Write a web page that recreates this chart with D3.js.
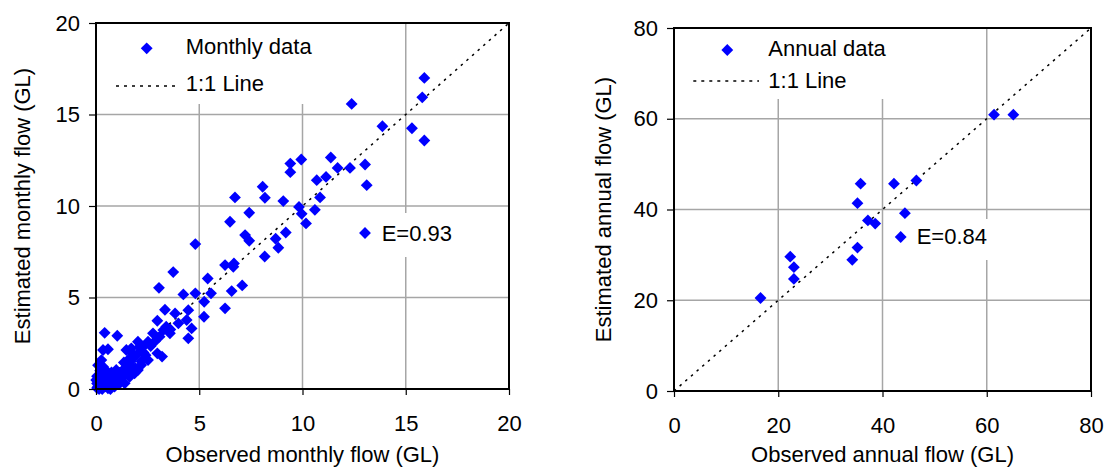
<!DOCTYPE html>
<html>
<head>
<meta charset="utf-8">
<script src="https://cdn.jsdelivr.net/npm/d3@7"></script>
<style>
    body { margin: 0; background: #fff; }
    svg { display: block; font-family: "Liberation Sans", Arial, sans-serif; }
</style>
</head>
<body>
<div id="container"></div>
<script>
const monthlyObserved = [
    15.9, 15.8, 12.38, 13.87, 15.3, 15.9,
    11.37, 9.94, 9.41, 9.41, 11.7, 12.3, 13.03, 13.11, 11.14, 10.69, 10.85, 10.6, 9.83, 9.96, 10.17, 9.07,
    8.07, 8.18, 6.73, 7.42, 6.49, 9.19, 8.7, 8.83, 8.17, 7.22, 7.42, 4.81, 6.25, 6.68, 6.65, 7.08, 6.57,
    6.25, 5.41, 3.74, 3.05, 4.23, 4.81, 5.57, 5.24, 5.23, 4.47, 3.34, 2.97, 3.83, 4.39, 4.63, 4.47, 3.99,
    3.58, 3.26, 3.08, 2.76, 3.2, 2.97, 2.52, 2.28, 2.03, 1.71, 1.47, 1.87, 1.55, 1.35, 0.98, 1.39, 1.71,
    2.19, 2.52, 0.82, 0.58, 0.34, 0.1, 0.01, 0.18, 0.42, 0.34, 1.39, 1.15, 0.9, 0.58, 1.63, 1.87, 2.03,
    1.23, 0.98, 0.42, 1.03, 0.58, 0.34, 0.26, 0.26,
    0.05, 0.15, 0.2, 0.3, 0.45, 0.5, 0.7, 0.75, 0.85, 1.05, 1.3, 1.5, 1.45, 1.7, 2.0, 2.3, 0.95, 0.7,
    0.4, 0.15, 0.25, 0.1, 0.05,
    1.2, 1.6, 1.9, 2.2, 2.4, 1.0, 0.6, 0.3, 0.05, 0.2, 0.5, 1.75, 2.1, 2.65, 2.85, 3.4, 3.6
]
const monthlyEstimated = [
    17.0, 15.94, 15.58, 14.36, 14.25, 13.58,
    12.65, 12.54, 12.32, 11.85, 12.08, 12.08, 12.27, 11.14, 11.59, 11.41, 10.47, 9.79, 9.95, 9.57, 9.05, 10.27,
    11.05, 10.45, 10.47, 9.63, 9.14, 8.55, 8.21, 7.72, 7.24, 8.41, 8.1, 7.92, 6.77, 6.86, 6.68, 5.66, 5.35,
    4.41, 6.04, 6.39, 5.53, 5.17, 5.23, 5.23, 4.77, 3.95, 4.31, 4.33, 3.73, 4.13, 3.77, 3.31, 2.77, 3.59,
    3.04, 3.22, 2.86, 3.04, 1.77, 1.95, 2.58, 2.31, 2.58, 2.22, 2.13, 1.77, 1.58, 1.45, 1.04, 1.13, 1.22,
    1.31, 1.58, 0.67, 0.58, 0.31, 0.13, 0.49, 0.76, 0.86, 1.22, 0.31, 0.31, 0.13, 0.04, 0.67, 0.86, 1.04,
    0.67, 0.58, 3.07, 2.91, 2.17, 2.13, 1.58, 1.04,
    0.05, 0.0, 0.2, 0.05, 0.15, 0.4, 0.3, 0.9, 0.4, 0.85, 0.95, 1.0, 1.4, 1.55, 1.9, 2.0, 0.3, 0.0,
    0.6, 0.4, 0.9, 1.3, 0.3,
    0.55, 0.75, 1.15, 1.5, 1.85, 0.7, 0.2, 0.0, 0.7, 1.0, 1.0, 1.95, 2.3, 2.35, 2.6, 3.4, 3.25
]

const annualObserved = [16.6, 22.3, 23.0, 23.0, 34.2, 35.2, 35.2, 35.8, 37.2, 38.6, 42.2, 44.3, 46.5, 61.4, 65.1]
const annualEstimated = [20.5, 29.6, 27.3, 24.7, 28.9, 31.6, 41.4, 45.7, 37.6, 36.9, 45.7, 39.2, 46.4, 60.9, 60.9]

const monthlyTicks = [0, 5, 10, 15, 20]
const annualTicks = [0, 20, 40, 60, 80]

const panels = [
    {
        obs: monthlyObserved,
        est: monthlyEstimated,
        ticks: monthlyTicks,
        x0: 96, x1: 509, y0: 389, y1: 23,
        xTitle: "Observed monthly flow (GL)",
        yTitle: "Estimated monthly flow (GL)",
        yTitleX: 30,
        legendLabel: "Monthly data",
        legendBox: [97, 24, 240, 80],
        legendDiamond: [146.7, 48.3],
        legendText: [185.7, 54],
        lineLegend: [116, 180, 86],
        lineText: [185.7, 91],
        eLabel: "E=0.93",
        eBox: [352, 213, 110, 44],
        eDiamond: [365, 233],
        eText: [381.7, 240.5]
    },
    {
        obs: annualObserved,
        est: annualEstimated,
        ticks: annualTicks,
        x0: 674, x1: 1091, y0: 391, y1: 28,
        xTitle: "Observed annual flow (GL)",
        yTitle: "Estimated annual flow (GL)",
        yTitleX: 611,
        legendLabel: "Annual data",
        legendBox: [675, 29, 270, 70],
        legendDiamond: [727.3, 50],
        legendText: [768.3, 55.5],
        lineLegend: [693.3, 759, 81],
        lineText: [768.3, 87.5],
        eLabel: "E=0.84",
        eBox: [888, 219, 112, 41],
        eDiamond: [900.7, 237],
        eText: [916.7, 244]
    }
]

const svg = d3.select("div#container")
    .append("svg")
    .attr("width", 1106)
    .attr("height", 470)

const diamond = d3.symbol().type(d3.symbolSquare).size(70)
const dotted = "2.5,5"
const fontSize = 22

panels.forEach(p => {
    const x = d3.scaleLinear().domain([p.ticks[0], p.ticks[p.ticks.length - 1]]).range([p.x0, p.x1])
    const y = d3.scaleLinear().domain([p.ticks[0], p.ticks[p.ticks.length - 1]]).range([p.y0, p.y1])
    const g = svg.append("g")

    // grid
    g.append("g")
        .selectAll("line")
        .data(p.ticks.slice(1, -1))
        .enter()
        .append("line")
        .attr("x1", d => x(d)).attr("x2", d => x(d))
        .attr("y1", p.y0).attr("y2", p.y1)
        .attr("stroke", "#a6a6a6").attr("stroke-width", 1.5)
    g.append("g")
        .selectAll("line")
        .data(p.ticks.slice(1, -1))
        .enter()
        .append("line")
        .attr("y1", d => y(d)).attr("y2", d => y(d))
        .attr("x1", p.x0).attr("x2", p.x1)
        .attr("stroke", "#a6a6a6").attr("stroke-width", 1.5)

    // 1:1 line
    const lo = p.ticks[0], hi = p.ticks[p.ticks.length - 1]
    g.append("line")
        .attr("x1", x(lo)).attr("y1", y(lo))
        .attr("x2", x(hi)).attr("y2", y(hi))
        .attr("stroke", "#000").attr("stroke-width", 1.5)
        .attr("stroke-dasharray", dotted)

    const pts = p.obs.map((d, i) => ({ o: d, e: p.est[i] }))
    g.append("g")
        .selectAll("path")
        .data(pts)
        .enter()
        .append("path")
        .attr("d", diamond)
        .attr("transform", d => `translate(${x(d.o)},${y(d.e)}) rotate(45)`)
        .attr("fill", "#0000ff")

    // axes
    const xAxis = g.append("g")
        .attr("transform", `translate(0,${p.y0})`)
        .call(d3.axisBottom(x).tickValues(p.ticks).tickSize(6).tickPadding(20).tickSizeOuter(0))
    const yAxis = g.append("g")
        .attr("transform", `translate(${p.x0},0)`)
        .call(d3.axisLeft(y).tickValues(p.ticks).tickSize(7).tickPadding(9).tickSizeOuter(0))
    ;[xAxis, yAxis].forEach(a => {
        a.select(".domain").remove()
        a.selectAll(".tick line").attr("stroke", "#000").attr("stroke-width", 1.2)
        a.selectAll("text")
            .attr("fill", "#000")
            .style("font-size", fontSize + "px")
            .style("font-family", '"Liberation Sans", Arial, sans-serif')
    })

    g.append("rect")
        .attr("x", p.x0).attr("y", p.y1)
        .attr("width", p.x1 - p.x0).attr("height", p.y0 - p.y1)
        .attr("fill", "none").attr("stroke", "#000").attr("stroke-width", 2)

    // legend
    const lb = p.legendBox
    g.append("rect").attr("x", lb[0]).attr("y", lb[1]).attr("width", lb[2]).attr("height", lb[3]).attr("fill", "#fff")
    g.append("path")
        .attr("d", diamond)
        .attr("transform", `translate(${p.legendDiamond[0]},${p.legendDiamond[1]}) rotate(45)`)
        .attr("fill", "#0000ff")
    g.append("text")
        .attr("x", p.legendText[0]).attr("y", p.legendText[1])
        .style("font-size", fontSize + "px")
        .text(p.legendLabel)
    g.append("line")
        .attr("x1", p.lineLegend[0]).attr("x2", p.lineLegend[1])
        .attr("y1", p.lineLegend[2]).attr("y2", p.lineLegend[2])
        .attr("stroke", "#000").attr("stroke-width", 1.5)
        .attr("stroke-dasharray", "3,5")
    g.append("text")
        .attr("x", p.lineText[0]).attr("y", p.lineText[1])
        .style("font-size", fontSize + "px")
        .text("1:1 Line")

    const eb = p.eBox
    g.append("rect").attr("x", eb[0]).attr("y", eb[1]).attr("width", eb[2]).attr("height", eb[3]).attr("fill", "#fff")
    g.append("path")
        .attr("d", diamond)
        .attr("transform", `translate(${p.eDiamond[0]},${p.eDiamond[1]}) rotate(45)`)
        .attr("fill", "#0000ff")
    g.append("text")
        .attr("x", p.eText[0]).attr("y", p.eText[1])
        .style("font-size", fontSize + "px")
        .text(p.eLabel)

    // titles
    g.append("text")
        .attr("x", (p.x0 + p.x1) / 2).attr("y", 462)
        .attr("text-anchor", "middle")
        .style("font-size", fontSize + "px")
        .text(p.xTitle)
    g.append("text")
        .attr("transform", `translate(${p.yTitleX},${(p.y0 + p.y1) / 2}) rotate(-90)`)
        .attr("text-anchor", "middle")
        .style("font-size", fontSize + "px")
        .text(p.yTitle)
})
</script>
</body>
</html>
